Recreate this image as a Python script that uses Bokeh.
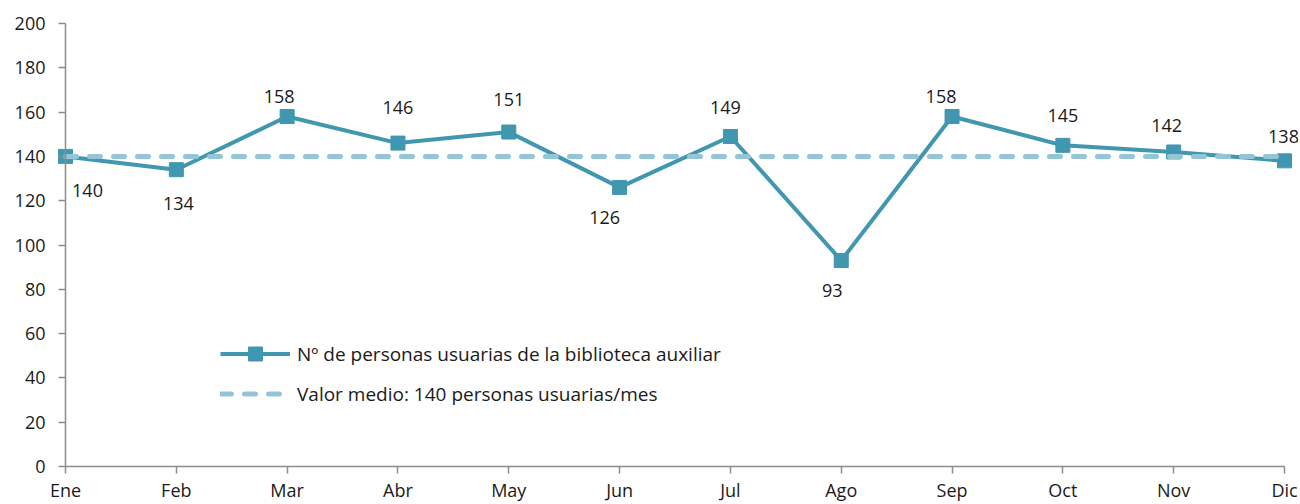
from bokeh.plotting import figure
from bokeh.models import ColumnDataSource, Label, Legend, LegendItem, FixedTicker, Range1d
from bokeh.embed import file_html
from bokeh.resources import INLINE

months = ["Ene", "Feb", "Mar", "Abr", "May", "Jun", "Jul", "Ago", "Sep", "Oct", "Nov", "Dic"]
usuarios = [140, 134, 158, 146, 151, 126, 149, 93, 158, 145, 142, 138]
media = [140, 140, 140, 140, 140, 140, 140, 140, 140, 140, 140, 140]
y_ticks = [0, 20, 40, 60, 80, 100, 120, 140, 160, 180, 200]

# label placement (pixels), style only
lab_dx = [22, 2, -8, 0, 0, -15, -5, -9, -11, 0, -7, -1]
lab_dy = [-34, -34, 20, 36, 33, -30, 29, -30, 20, 30, 26, 24]

FONT = "Open Sans"
TEXT = "#1a1a1a"
MAIN = "#4196b0"
MEAN = "#93c5d7"
AXIS = "#8c8c8c"

xs = list(range(len(months)))
src = ColumnDataSource(dict(x=xs, y=usuarios, m=media))

PX = 1219 / 11.0   # pixels per month step
PY = 443 / 200.0   # pixels per unit
LEFT, TOP, BOTTOM = 8, 11, 0
H = 504
p = figure(width=1300, height=H, output_backend="svg", toolbar_location=None,
           x_range=Range1d(-(65 - LEFT) / PX, 11 + 14 / PX),
           y_range=Range1d(-((H - BOTTOM) - 466) / PY, 200 + (23 - TOP) / PY),
           min_border_left=LEFT, min_border_right=2, min_border_top=TOP, min_border_bottom=BOTTOM)
p.outline_line_color = None
p.background_fill_color = None
p.border_fill_color = "white"
p.xgrid.visible = False
p.ygrid.visible = False

r_line = p.line("x", "y", source=src, line_color=MAIN, line_width=4)
r_mark = p.scatter("x", "y", source=src, marker="square", size=14, fill_color=MAIN, line_color=MAIN)
r_mean = p.line("x", "m", source=src, line_color=MEAN, line_width=5, line_dash="11 13", line_cap="round")

for i, v in enumerate(usuarios):
    p.add_layout(Label(x=i, y=v, text=str(v), x_offset=lab_dx[i], y_offset=lab_dy[i],
                       text_align="center", text_baseline="middle", text_font=FONT,
                       text_font_size="18px", text_color=TEXT))

for ax in (p.xaxis[0], p.yaxis[0]):
    ax.axis_line_color = AXIS
    ax.axis_line_width = 1.5
    ax.major_tick_line_color = AXIS
    ax.major_tick_line_width = 1.5
    ax.major_tick_out = 7
    ax.major_tick_in = 0
    ax.minor_tick_line_color = None
    ax.major_label_text_font = FONT
    ax.major_label_text_font_size = "18px"
    ax.major_label_text_color = TEXT

p.xaxis.ticker = FixedTicker(ticks=xs)
p.xaxis.major_label_overrides = {i: m for i, m in enumerate(months)}
p.xaxis.major_label_standoff = 4
p.xaxis.bounds = (0, len(months) - 1)
p.xaxis.fixed_location = 0
p.yaxis.ticker = FixedTicker(ticks=y_ticks)
p.yaxis.major_label_standoff = 13
p.yaxis.bounds = (0, 200)
p.yaxis.fixed_location = 0

legend = Legend(items=[
    LegendItem(label="N\u00ba de personas usuarias de la biblioteca auxiliar", renderers=[r_line, r_mark]),
    LegendItem(label="Valor medio: 140 personas usuarias/mes", renderers=[r_mean]),
], location=(220 - LEFT, 55 + (H - BOTTOM - 466)))
legend.background_fill_alpha = 0
legend.border_line_color = None
legend.padding = 0
legend.margin = 0
legend.spacing = 5
legend.glyph_width = 70
legend.glyph_height = 35
legend.label_height = 20
legend.label_standoff = 7
legend.label_text_font = FONT
legend.label_text_font_size = "19px"
legend.label_text_color = TEXT
p.add_layout(legend)

open("out.html", "w").write(file_html(p, INLINE))
